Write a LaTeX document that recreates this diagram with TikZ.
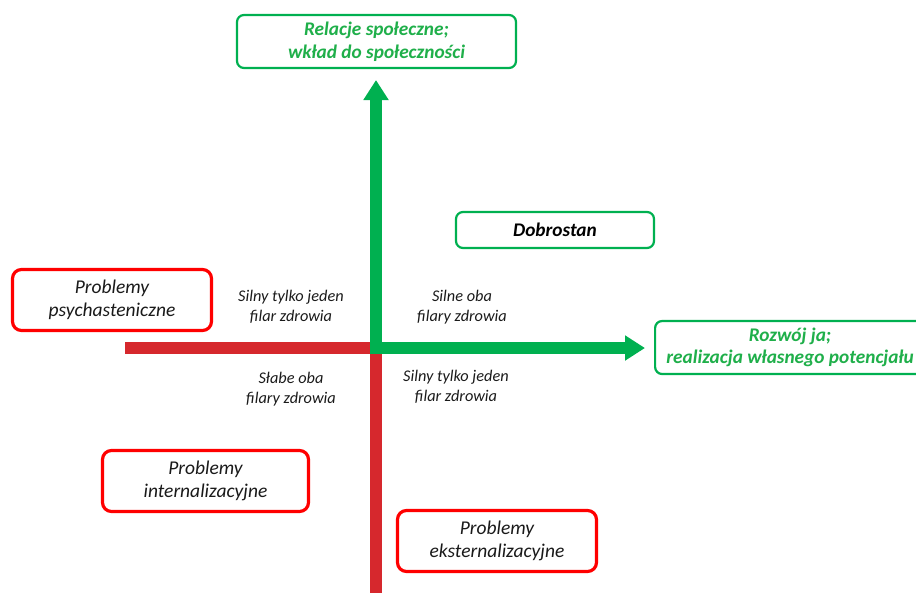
\documentclass[tikz,border=0pt]{standalone}
\usepackage{fontspec}
\setmainfont{Carlito}
\usetikzlibrary{arrows.meta}
\definecolor{axgreen}{HTML}{00B050}
\definecolor{axred}{HTML}{D6282D}
\definecolor{boxred}{HTML}{FF0000}
\definecolor{txtgreen}{HTML}{1FAF4A}
\definecolor{txtdark}{HTML}{1A1A1A}
\tikzset{
  greenbox/.style={draw=axgreen, line width=2.2pt, rounded corners=7pt, fill=white,
    align=center, font=\fontsize{19.3}{22.5}\selectfont\bfseries\itshape, text=txtgreen},
  redbox/.style={draw=boxred, line width=3.2pt, rounded corners=9pt, fill=white,
    align=center, font=\fontsize{19.5}{23}\selectfont\itshape, text=txtdark},
  quadlabel/.style={align=center, font=\fontsize{16.3}{20}\selectfont\itshape, text=txtdark},
  redaxis/.style={draw=axred, line width=12.5pt},
  greenaxis/.style={draw=axgreen, line width=12.5pt,
    -{Triangle[width=24pt,length=20pt]}},
}
\begin{document}
\begin{tikzpicture}[x=1pt,y=-1pt]
\useasboundingbox (0,0) rectangle (916,592);

% axis end points
\coordinate (O) at (376,348);
\coordinate (Wend) at (125,348);
\coordinate (Send) at (376,596);
\coordinate (Gv) at (376,354.25);
\coordinate (Gh) at (369.75,348);
\coordinate (Ntip) at (376,80);
\coordinate (Etip) at (645,348);

% red half-axes
\draw[redaxis] (Wend) -- (O);
\draw[redaxis] (O) -- (Send);
% green arrows
\draw[greenaxis] (Gv) -- (Ntip);
\draw[greenaxis] (Gh) -- (Etip);

% boxes
\node[greenbox, minimum width=279pt, minimum height=53pt] (rel) at (376.5,41.5)
  {Relacje społeczne;\\wkład do społeczności};
\node[greenbox, minimum width=198pt, minimum height=36pt, text=black] (dob) at (555,230)
  {Dobrostan};
\node[greenbox, minimum width=268pt, minimum height=53pt, anchor=west] (roz) at (654,347.5)
  {\hspace*{2pt}Rozwój ja;\\\hspace*{2pt}realizacja własnego potencjału};
\node[redbox, minimum width=199pt, minimum height=61pt] (psy) at (112,300)
  {Problemy\\psychasteniczne};
\node[redbox, minimum width=206pt, minimum height=61pt] (int) at (205.5,481)
  {Problemy\\internalizacyjne};
\node[redbox, minimum width=199pt, minimum height=61pt] (eks) at (497,541)
  {Problemy\\eksternalizacyjne};

% quadrant labels
\node[quadlabel] (q1) at (291,307) {Silny tylko jeden\\filar zdrowia};
\node[quadlabel] (q2) at (462,307) {Silne oba\\filary zdrowia};
\node[quadlabel] (q3) at (291,389) {Słabe oba\\filary zdrowia};
\node[quadlabel] (q4) at (456,387) {Silny tylko jeden\\filar zdrowia};
\end{tikzpicture}
\end{document}
